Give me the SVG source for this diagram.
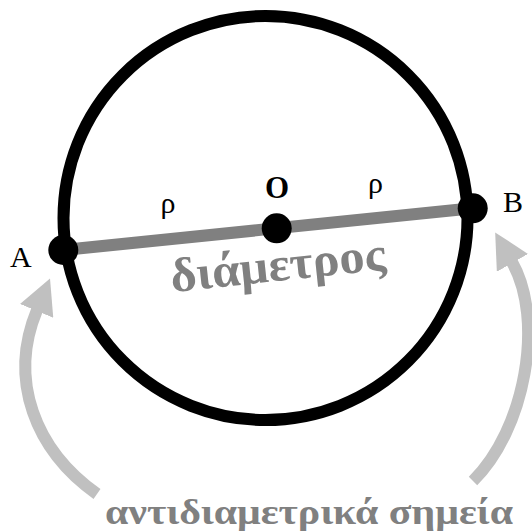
<svg xmlns="http://www.w3.org/2000/svg" width="532" height="531" viewBox="0 0 532 531">
<style>
.lbl{font-family:"Liberation Serif","DejaVu Serif",serif;fill:#000}
.gray{font-family:"Liberation Serif","DejaVu Serif",serif;font-weight:bold;fill:#808080}
.dot{fill:#000}
.arrow{fill:none;stroke:#c0c0c0;stroke-width:12}
</style>
<defs>
<marker id="ah" markerUnits="userSpaceOnUse" markerWidth="36" markerHeight="36" viewBox="0 0 36 36" refX="1" refY="18" orient="auto">
<path d="M0,0 L35,18 L0,36 Z" fill="#c0c0c0"/>
</marker>
</defs>
<rect width="532" height="531" fill="#fff"/>
<g id="circle">
<circle cx="265.5" cy="218" r="202" fill="none" stroke="#000" stroke-width="12"/>
</g>
<g id="connectors">
<line id="diameter" x1="63.3" y1="250" x2="472.7" y2="208.3" stroke="#808080" stroke-width="12"/>
<path id="arrowA" class="arrow" d="M97,494 C35,450 8,380 37,310" marker-end="url(#ah)"/>
<path id="arrowB" class="arrow" d="M473,481 C525,430 545,320 512,262" marker-end="url(#ah)"/>
</g>
<g id="nodeA">
<circle class="dot" cx="63.3" cy="250" r="15"/>
<text class="lbl" x="10" y="267" font-size="30">A</text>
</g>
<g id="nodeB">
<circle class="dot" cx="472.7" cy="208.3" r="15"/>
<text class="lbl" x="503" y="212" font-size="30">B</text>
</g>
<g id="nodeO">
<circle class="dot" cx="276.7" cy="228.3" r="15"/>
<text class="lbl" x="277" y="198" font-size="31" font-weight="bold" text-anchor="middle">O</text>
</g>
<g id="labels">
<text class="lbl" x="168" y="213" font-size="30" text-anchor="middle">ρ</text>
<text class="lbl" x="375.5" y="193" font-size="30" text-anchor="middle">ρ</text>
<text class="gray" x="172" y="292" font-size="48" transform="rotate(-6 172 292)" textLength="216" lengthAdjust="spacingAndGlyphs">διάμετρος</text>
<text class="gray" x="105" y="524" font-size="35" textLength="408" lengthAdjust="spacingAndGlyphs">αντιδιαμετρικά σημεία</text>
</g>
</svg>
